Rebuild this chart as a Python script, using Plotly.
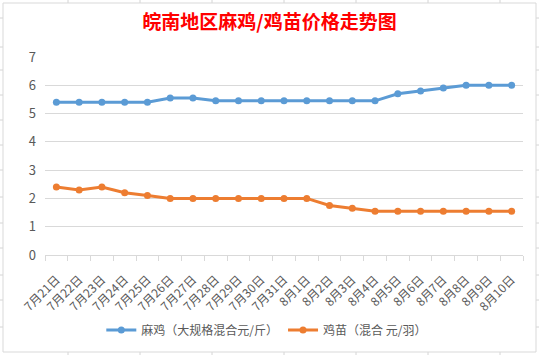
import plotly.graph_objects as go

dates = ["7月21日", "7月22日", "7月23日", "7月24日", "7月25日", "7月26日", "7月27日",
         "7月28日", "7月29日", "7月30日", "7月31日", "8月1日", "8月2日", "8月3日",
         "8月4日", "8月5日", "8月6日", "8月7日", "8月8日", "8月9日", "8月10日"]
maji = [5.4, 5.4, 5.4, 5.4, 5.4, 5.55, 5.55, 5.45, 5.45, 5.45, 5.45, 5.45, 5.45, 5.45,
        5.45, 5.7, 5.8, 5.9, 6.0, 6.0, 6.0]
jimiao = [2.4, 2.3, 2.4, 2.2, 2.1, 2.0, 2.0, 2.0, 2.0, 2.0, 2.0, 2.0, 1.75, 1.65,
          1.55, 1.55, 1.55, 1.55, 1.55, 1.55, 1.55]
name_maji = "麻鸡（大规格混合元/斤）"
name_jimiao = "鸡苗（混合 元/羽）"
title_text = "皖南地区麻鸡/鸡苗价格走势图"

W, H = 539, 355
L, R, T, B = 45, 16, 57, 100
pw, ph = W - L - R, H - T - B

def px_x(x):
    return (x - L) / pw

def px_y(y):
    return (H - B - y) / ph

FONT = "Noto Sans CJK SC, Microsoft YaHei, sans-serif"

fig = go.Figure()
fig.add_trace(go.Scatter(x=dates, y=maji, name=name_maji, mode="lines+markers",
                         line=dict(color="#5b9bd5", width=3),
                         marker=dict(color="#5b9bd5", size=7)))
fig.add_trace(go.Scatter(x=dates, y=jimiao, name=name_jimiao, mode="lines+markers",
                         line=dict(color="#ed7d31", width=3),
                         marker=dict(color="#ed7d31", size=7)))

shapes = []
cell = "#d4d4d4"
for x in [68, 140, 212, 284, 356, 428, 500]:
    shapes.append(dict(type="line", xref="paper", yref="paper", layer="below",
                       x0=px_x(x), x1=px_x(x), y0=px_y(0), y1=px_y(H),
                       line=dict(color=cell, width=1)))
for y in [18, 47, 70, 95, 120, 145, 170, 197, 223, 248, 275, 300, 327]:
    shapes.append(dict(type="line", xref="paper", yref="paper", layer="below",
                       x0=px_x(0), x1=px_x(W), y0=px_y(y), y1=px_y(y),
                       line=dict(color=cell, width=1)))
shapes.append(dict(type="rect", xref="paper", yref="paper", layer="below",
                   x0=px_x(3), x1=px_x(536), y0=px_y(3), y1=px_y(352),
                   fillcolor="white", line=dict(color="#d9d9d9", width=1)))

fig.update_layout(
    width=W, height=H,
    margin=dict(l=L, r=R, t=T, b=B, pad=0, autoexpand=False),
    paper_bgcolor="white", plot_bgcolor="rgba(0,0,0,0)",
    font=dict(family=FONT, color="#595959"),
    title=dict(text=title_text, x=0.5, xanchor="center", xref="container",
               y=1 - 22 / H, yanchor="middle", automargin=False,
               font=dict(family=FONT, size=19, color="#ff0000", weight="bold")),
    xaxis=dict(type="category", tickangle=-45, tickson="boundaries",
               ticks="outside", ticklen=5, tickcolor="#d9d9d9",
               showline=True, linecolor="#d9d9d9", linewidth=1,
               showgrid=False, tickfont=dict(size=12, color="#595959"),
               ticklabelstandoff=12, automargin=False,
               range=[-0.5, len(dates) - 0.5]),
    yaxis=dict(range=[0, 7], dtick=1, showgrid=True, gridcolor="#d9d9d9",
               zeroline=False, ticks="", tickfont=dict(size=13, color="#595959"),
               ticklabelstandoff=8, automargin=False),
    legend=dict(orientation="h", x=0.495, xanchor="center", xref="container",
                y=1 - 330 / H, yref="container", yanchor="middle",
                font=dict(size=12, color="#595959"), bgcolor="rgba(0,0,0,0)",
                itemwidth=30),
    showlegend=True,
    shapes=shapes,
)

fig.write_html("out.html", config={"displayModeBar": False},
               post_script="document.body.style.margin='0';document.body.style.overflow='hidden';")
